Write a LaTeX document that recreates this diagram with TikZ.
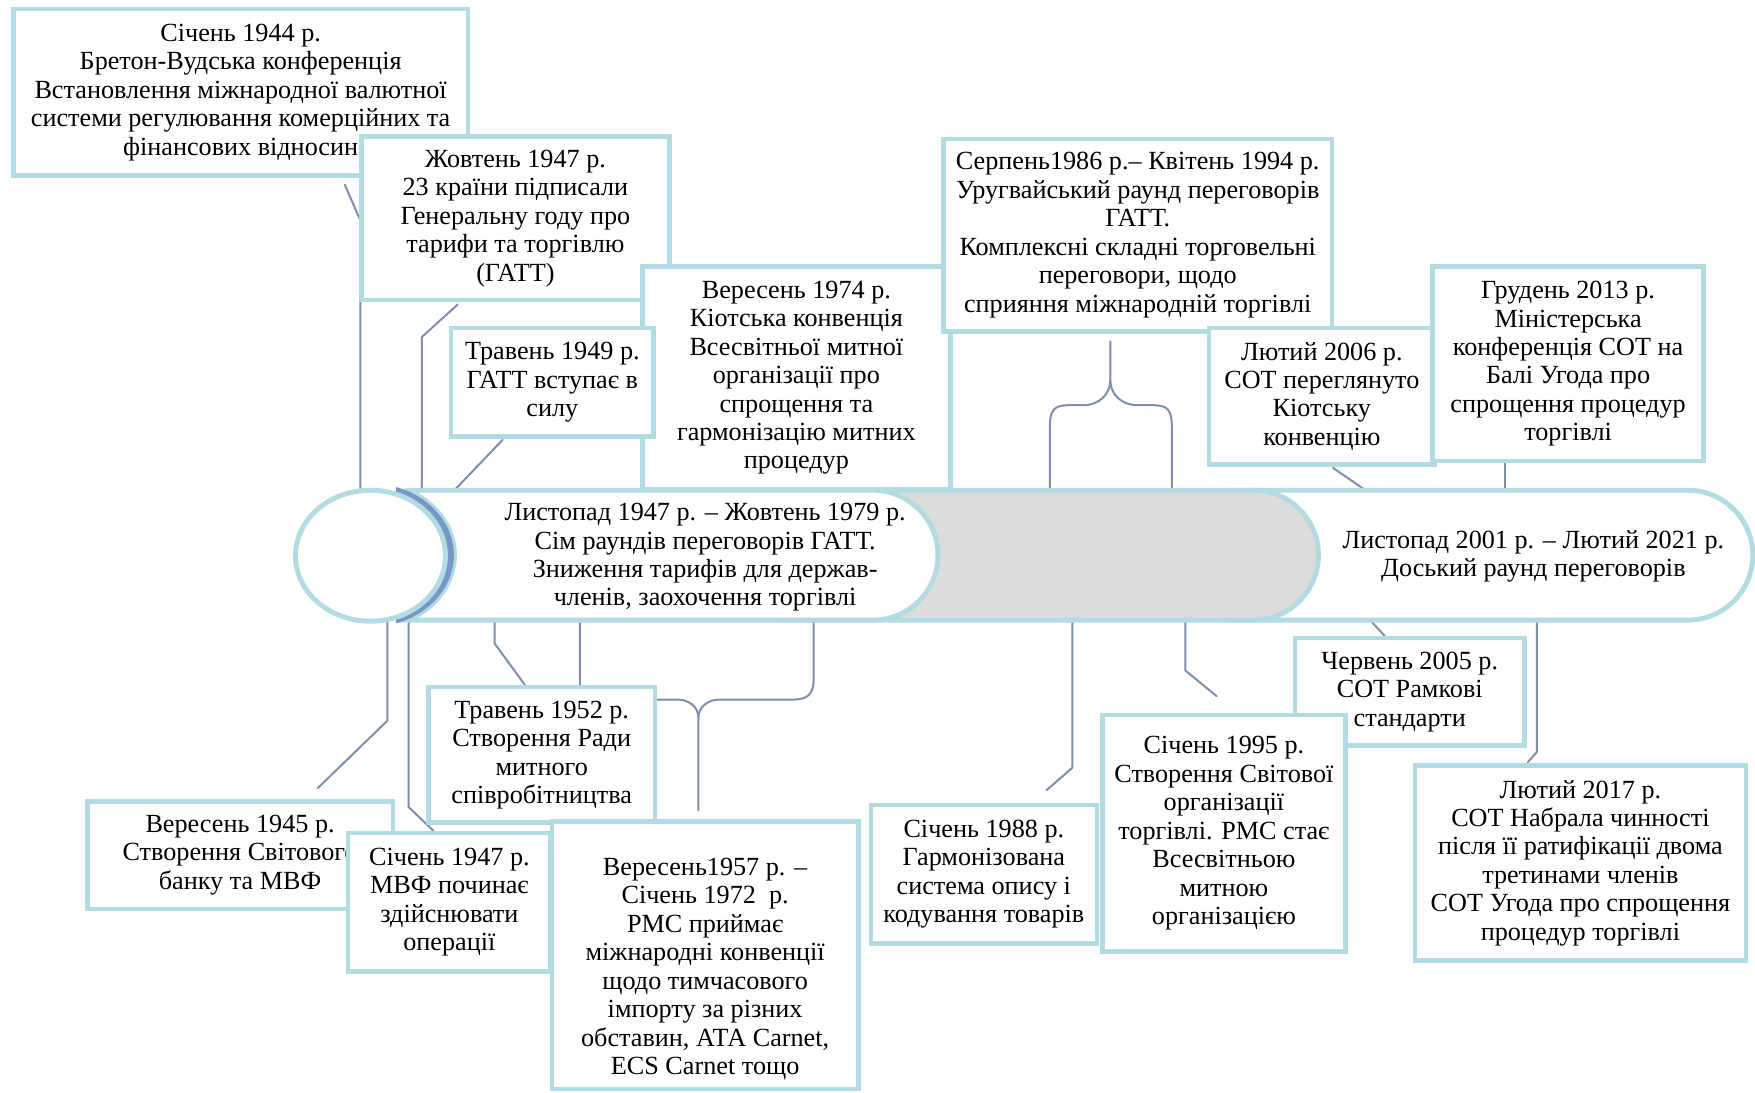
\documentclass[tikz,border=0pt]{standalone}
\usepackage{fontspec}
\setmainfont{Liberation Serif}
\definecolor{tealb}{RGB}{178,220,225}
\definecolor{connc}{RGB}{128,144,172}
\definecolor{greyf}{RGB}{220,220,220}
\definecolor{cresc}{RGB}{118,152,200}
\begin{document}
\begin{tikzpicture}[x=0.5pt,y=-0.5pt,
  box/.style={draw=tealb, line width=2pt, fill=white, align=center, inner sep=0pt,
    font=\fontsize{11.7pt}{12.7pt}\selectfont, execute at begin node={\rule{0pt}{12pt}}},
  ptext/.style={align=center, inner sep=0pt, font=\fontsize{11.7pt}{12.7pt}\selectfont,
    execute at begin node={\rule{0pt}{13pt}}},
  pill/.style={draw=tealb, line width=2.2pt},
  conn/.style={draw=connc, line width=0.9pt, line cap=round, line join=round}]
\useasboundingbox[fill=white] (0,0) rectangle (1568,976);

% ---------- connector anchor points on the timeline ----------
\coordinate (t1) at (322,438);
\coordinate (t2) at (377,438);
\coordinate (t3) at (406,438);
\coordinate (t4a) at (938,438);
\coordinate (t4b) at (1047,438);
\coordinate (t5) at (1220,438);
\coordinate (t6) at (1345,438);
\coordinate (u1) at (346,553);
\coordinate (u2) at (365,554);
\coordinate (u3) at (442,554);
\coordinate (u4a) at (518,554);
\coordinate (u4b) at (727,554);
\coordinate (u5) at (958,554);
\coordinate (u6) at (1059,554);
\coordinate (u7) at (1224,554);
\coordinate (u8) at (1373,554);
% free ends
\coordinate (e1) at (308,165);
\coordinate (e2) at (409,272);
\coordinate (e3) at (449,393);
\coordinate (e4) at (992,305);
\coordinate (e5) at (1191,418);
\coordinate (e6) at (1345,413);
\coordinate (f1) at (284,704);
\coordinate (f2) at (387,742);
\coordinate (f3) at (469,612);
\coordinate (f4) at (624,724);
\coordinate (f5) at (935,706);
\coordinate (f6) at (1087,622);
\coordinate (f7) at (1237,568);
\coordinate (f8) at (1365,681);

% ---------- connectors ----------
\draw[conn] (t1) -- (322,197) -- (e1);
\draw[conn] (t2) -- (377,301) -- (e2);
\draw[conn] (t3) -- (e3);
\draw[conn] (t4a) -- (938,383) .. controls (938,366) and (941,362) .. (956,362) -- (968,362)
   .. controls (982,362) and (992,352) .. (992,340) -- (e4);
\draw[conn] (t4b) -- (1047,383) .. controls (1047,366) and (1044,362) .. (1029,362) -- (1016,362)
   .. controls (1002,362) and (992,352) .. (992,340);
\draw[conn] (t5) -- (e5);
\draw[conn] (t6) -- (e6);
\draw[conn] (u1) -- (346,644) -- (f1);
\draw[conn] (u2) -- (365,721) -- (f2);
\draw[conn] (u3) -- (442,575) -- (f3);
\draw[conn] (u4a) -- (518,606) .. controls (518,620) and (523,625) .. (537,625) -- (605,625)
   .. controls (616,625) and (624,632) .. (624,641) -- (f4);
\draw[conn] (u4b) -- (727,606) .. controls (727,620) and (722,625) .. (708,625) -- (643,625)
   .. controls (632,625) and (624,632) .. (624,641);
\draw[conn] (u5) -- (958,686) -- (f5);
\draw[conn] (u6) -- (1059,599) -- (f6);
\draw[conn] (u7) -- (f7);
\draw[conn] (u8) -- (1373,672) -- (f8);

% ---------- timeline ----------
\draw[pill, fill=white] (1100,438) -- (1508,438) arc[start angle=90, end angle=-90, radius=29pt]
   -- (1100,554) -- cycle;
\draw[pill, fill=greyf] (700,438) -- (1120,438) arc[start angle=90, end angle=-90, radius=29pt]
   -- (700,554) -- cycle;
\draw[pill, fill=white] (363.8,438) -- (780,438) arc[start angle=90, end angle=-90, radius=29pt]
   -- (363.8,554) arc[start angle=-64.05, end angle=64.05, x radius=37.5pt, y radius=32.25pt] -- cycle;
\begin{scope}
  \clip (354,428) rectangle (420,566);
  \fill[cresc] (331,496) ellipse [x radius=37.25pt, y radius=32pt];
\end{scope}
\draw[pill, fill=white] (331,496.5) ellipse [x radius=33.5pt, y radius=29.25pt];

\node[ptext] (gatt) at (630,498) {Листопад 1947 р. – Жовтень 1979 р.\\Сім раундів переговорів ГАТТ.\\Зниження тарифів для держав-\\членів, заохочення торгівлі};
\node[ptext] (doha) at (1370,497) {Листопад 2001 р. – Лютий 2021 р.\\Доський раунд переговорів};

% ---------- upper boxes ----------
\node[box, minimum width=203pt, minimum height=74.5pt] (b1944) at (215,82.5)
  {Січень 1944 р.\\Бретон-Вудська конференція\\Встановлення міжнародної валютної\\системи регулювання комерційних та\\фінансових відносин};
\node[box, minimum width=137.5pt, minimum height=73pt] (b1947o) at (460.5,195)
  {Жовтень 1947 р.\\23 країни підписали\\Генеральну году про\\тарифи та торгівлю\\(ГАТТ)};
\node[box, minimum width=137.5pt, minimum height=99.5pt] (b1974) at (711.5,337.5)
  {Вересень 1974 р.\\Кіотська конвенція\\Всесвітньої митної\\організації про\\спрощення та\\гармонізацію митних\\процедур};
\node[box, minimum width=90.5pt, minimum height=48.5pt] (b1949) at (493.5,341.5)
  {Травень 1949 р.\\ГАТТ вступає в\\силу};
\node[box, minimum width=173.5pt, minimum height=86pt] (b1986) at (1016.5,210)
  {Серпень1986 р.– Квітень 1994 р.\\Уругвайський раунд переговорів\\ГАТТ.\\Комплексні складні торговельні\\переговори, щодо\\сприяння міжнародній торгівлі};
\node[box, minimum width=101pt, minimum height=61pt] (b2006) at (1181,354)
  {Лютий 2006 р.\\СОТ переглянуто\\Кіотську\\конвенцію};
\node[box, minimum width=121pt, minimum height=87pt] (b2013) at (1401,325)
  {Грудень 2013 р.\\Міністерська\\конференція СОТ на\\Балі Угода про\\спрощення процедур\\торгівлі};

% ---------- lower boxes ----------
\node[box, minimum width=136.5pt, minimum height=48pt] (b1945) at (214.5,764)
  {Вересень 1945 р.\\Створення Світового\\банку та МВФ};
\node[box, minimum width=90.5pt, minimum height=62pt] (b1947j) at (401.5,806)
  {Січень 1947 р.\\МВФ починає\\здійснювати\\операції};
\node[box, minimum width=101pt, minimum height=60.5pt] (b1952) at (484,674.5)
  {Травень 1952 р.\\Створення Ради\\митного\\співробітництва};
\node[box, minimum width=137pt, minimum height=119.5pt] (b1957) at (630,853.5)
  {\rule{0pt}{20pt}Вересень1957 р. –\\Січень 1972\ \ р.\\РМС приймає\\міжнародні конвенції\\щодо тимчасового\\імпорту за різних\\обставин, АТА Carnet,\\ECS Carnet тощо};
\node[box, minimum width=101pt, minimum height=62pt] (b1988) at (879,781)
  {Січень 1988 р.\\Гармонізована\\система опису і\\кодування товарів};
\node[box, minimum width=102.5pt, minimum height=48pt] (b2005) at (1259.5,618)
  {Червень 2005 р.\\СОТ Рамкові\\стандарти};
\node[box, minimum width=108.5pt, minimum height=105.5pt] (b1995) at (1093.5,744.5)
  {Січень 1995 р.\\Створення Світової\\організації\\торгівлі. РМС стає\\Всесвітньою\\митною\\організацією};
\node[box, minimum width=148pt, minimum height=87pt] (b2017) at (1412,771)
  {Лютий 2017 р.\\СОТ Набрала чинності\\після її ратифікації двома\\третинами членів\\СОТ Угода про спрощення\\процедур торгівлі};
\end{tikzpicture}
\end{document}
